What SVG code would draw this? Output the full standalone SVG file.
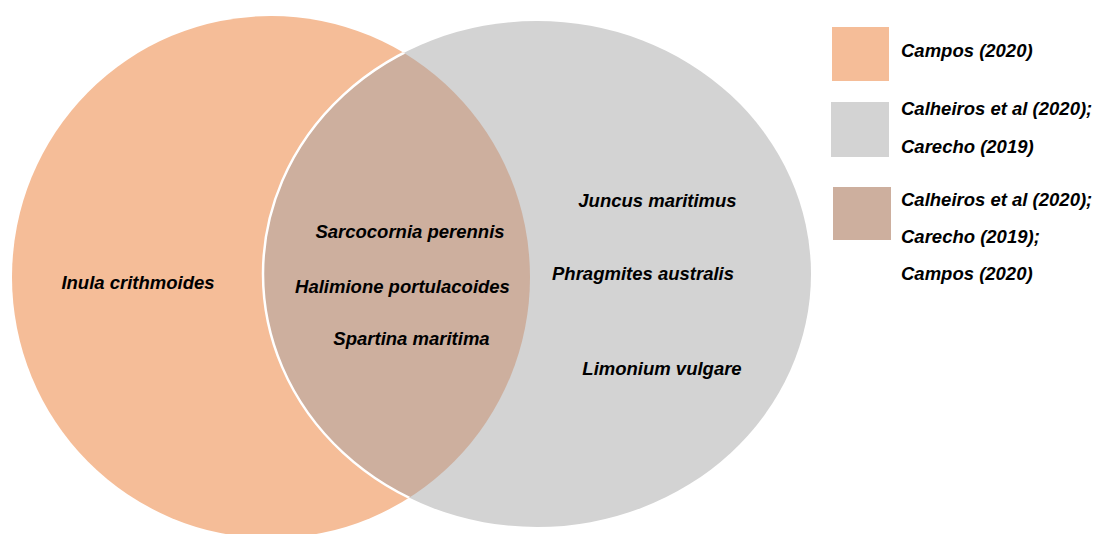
<svg xmlns="http://www.w3.org/2000/svg" width="1094" height="534" viewBox="0 0 1094 534">
  <style>
    .lbl { font-family: "Liberation Sans", Arial, sans-serif; font-size: 18.5px; font-weight: bold; font-style: italic; fill: #000; }
    .mid { text-anchor: middle; }
  </style>
  <defs>
    <clipPath id="clipLeft">
      <ellipse cx="271" cy="277" rx="259" ry="261"/>
    </clipPath>
  </defs>
  <rect width="1094" height="534" fill="#ffffff"/>
  <g id="set-campos">
    <ellipse cx="271" cy="277" rx="259" ry="261" fill="#F5BD98"/>
  </g>
  <g id="set-calheiros-carecho">
    <ellipse cx="537" cy="274" rx="274" ry="253" fill="#D3D3D3"/>
  </g>
  <g id="set-intersection">
    <ellipse cx="537" cy="274" rx="274" ry="253" fill="#CDAF9E" clip-path="url(#clipLeft)"/>
    <ellipse cx="537" cy="274" rx="274" ry="253" fill="none" stroke="#ffffff" stroke-width="2.5" clip-path="url(#clipLeft)"/>
  </g>
  <g id="connectors"></g>
  <g id="labels-campos">
    <text class="lbl mid" x="138" y="289">Inula crithmoides</text>
  </g>
  <g id="labels-intersection">
    <text class="lbl mid" x="410" y="238">Sarcocornia perennis</text>
    <text class="lbl mid" x="402.5" y="293">Halimione portulacoides</text>
    <text class="lbl mid" x="411.5" y="345">Spartina maritima</text>
  </g>
  <g id="labels-calheiros-carecho">
    <text class="lbl mid" x="657.5" y="207">Juncus maritimus</text>
    <text class="lbl mid" x="643" y="280">Phragmites australis</text>
    <text class="lbl mid" x="662" y="375">Limonium vulgare</text>
  </g>
  <g id="legend-campos">
    <rect x="832" y="27" width="57" height="54" fill="#F5BD98"/>
    <text class="lbl" x="901" y="57">Campos (2020)</text>
  </g>
  <g id="legend-calheiros-carecho">
    <rect x="831" y="102" width="58" height="55" fill="#D3D3D3"/>
    <text class="lbl" x="901" y="115">Calheiros et al (2020);</text>
    <text class="lbl" x="901" y="153">Carecho (2019)</text>
  </g>
  <g id="legend-all">
    <rect x="833" y="187" width="58" height="53" fill="#CDAF9E"/>
    <text class="lbl" x="901" y="206">Calheiros et al (2020);</text>
    <text class="lbl" x="901" y="243">Carecho (2019);</text>
    <text class="lbl" x="901" y="280">Campos (2020)</text>
  </g>
</svg>
